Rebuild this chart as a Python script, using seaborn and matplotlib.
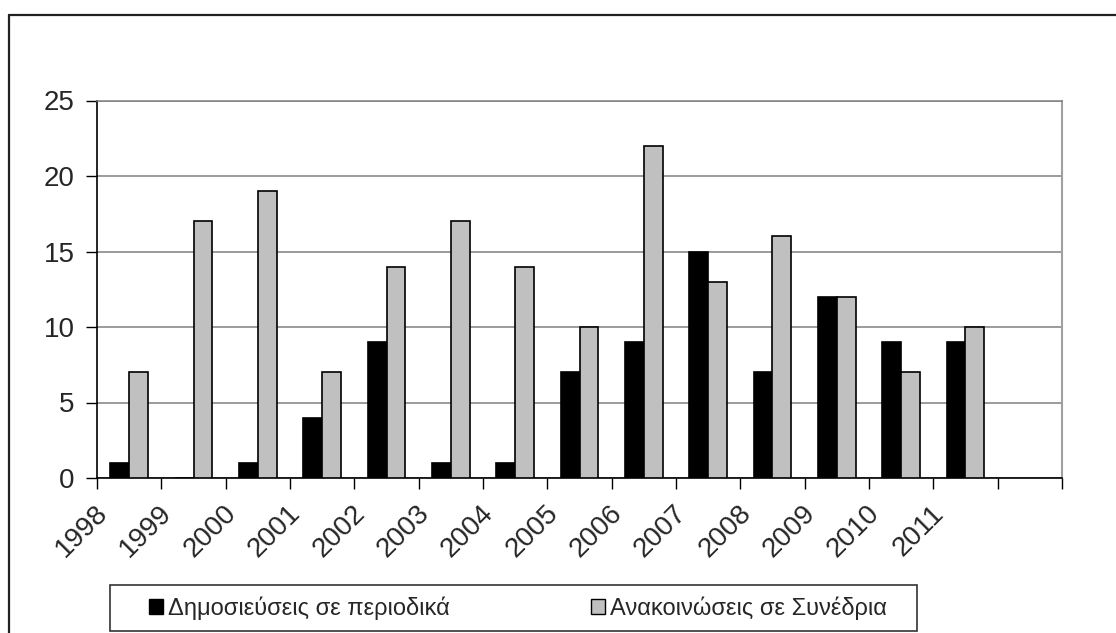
import numpy as np
import pandas as pd
import matplotlib
matplotlib.use("Agg")
import matplotlib.pyplot as plt
import matplotlib.transforms as mtransforms
from matplotlib.patches import Rectangle
from matplotlib.lines import Line2D
import seaborn as sns

years = ['1998', '1999', '2000', '2001', '2002', '2003', '2004',
         '2005', '2006', '2007', '2008', '2009', '2010', '2011']
journals = [1, 0, 1, 4, 9, 1, 1, 7, 9, 15, 7, 12, 9, 9]
conferences = [7, 17, 19, 7, 14, 17, 14, 10, 22, 13, 16, 12, 7, 10]
series_names = ['Δημοσιεύσεις σε περιοδικά', 'Ανακοινώσεις σε Συνέδρια']

df = pd.DataFrame({
    'year': years * 2,
    'count': journals + conferences,
    'series': [series_names[0]] * len(years) + [series_names[1]] * len(years),
})

sns.set_theme(style="white")
plt.rcParams['font.family'] = ['Liberation Sans', 'DejaVu Sans']

W, H = 1116, 633
fig = plt.figure(figsize=(W / 100, H / 100), dpi=100)
ax = fig.add_axes([97 / W, 1 - 478 / H, (1062 - 97) / W, (478 - 100.5) / H])

sns.barplot(data=df, x='year', y='count', hue='series', order=years,
            hue_order=series_names, palette={series_names[0]: '#000000', series_names[1]: '#C0C0C0'},
            width=0.59, edgecolor='black', linewidth=1.2, saturation=1,
            errorbar=None, ax=ax, legend=False, zorder=3)

ax.set_xlim(-0.5, len(years) + 0.5)
ax.set_ylim(0, 25)
ax.set_yticks([0, 5, 10, 15, 20, 25])
ax.yaxis.grid(True, color='#808080', linewidth=1.1, zorder=0)
ax.set_axisbelow(True)

ax.set_xticks(np.arange(len(years)))
ax.set_xticklabels(years, rotation=45, ha='right', rotation_mode='anchor')
ax.set_xticks(np.arange(len(years) + 2) - 0.5, minor=True)
ax.tick_params(axis='x', which='major', length=0, labelsize=20, pad=16)
ax.tick_params(axis='x', which='minor', length=8, width=1, color='black', direction='out', bottom=True)
ax.tick_params(axis='y', length=8, width=1, color='black', direction='out', left=True, labelsize=20, pad=8)
shift = mtransforms.ScaledTranslation(-25 / 72, 0, fig.dpi_scale_trans)
for lab in ax.get_xticklabels():
    lab.set_transform(lab.get_transform() + shift)

for side in ['left', 'bottom']:
    ax.spines[side].set_color('black')
    ax.spines[side].set_linewidth(1.2)
ax.spines['right'].set_color('#A0A0A0')
ax.spines['right'].set_linewidth(1.5)
ax.spines['top'].set_color('#808080')
ax.spines['top'].set_linewidth(1.1)
ax.set_xlabel('')
ax.set_ylabel('')

# legend
handles = [Rectangle((0, 0), 1, 1, facecolor='#000000', edgecolor='black', linewidth=1),
           Rectangle((0, 0), 1, 1, facecolor='#C0C0C0', edgecolor='black', linewidth=1)]
fig.legend(handles, series_names, loc='center', bbox_to_anchor=(518 / W, 1 - 608 / H),
           ncol=2, frameon=False, fontsize=17, handlelength=0.6, handleheight=0.6,
           handletextpad=0.2, columnspacing=6.0)
fig.patches.append(Rectangle((110 / W, 1 - 631 / H), (917 - 110) / W, (631 - 585) / H,
                             transform=fig.transFigure, facecolor='none', edgecolor='#333333',
                             linewidth=1.2))

# outer chart border
fig.lines.append(Line2D([9 / W, 1], [1 - 15 / H, 1 - 15 / H], transform=fig.transFigure,
                        color='#222222', linewidth=1.6))
fig.lines.append(Line2D([9 / W, 9 / W], [0, 1 - 15 / H], transform=fig.transFigure,
                        color='#222222', linewidth=1.6))

fig.savefig('out.png', dpi=100)
